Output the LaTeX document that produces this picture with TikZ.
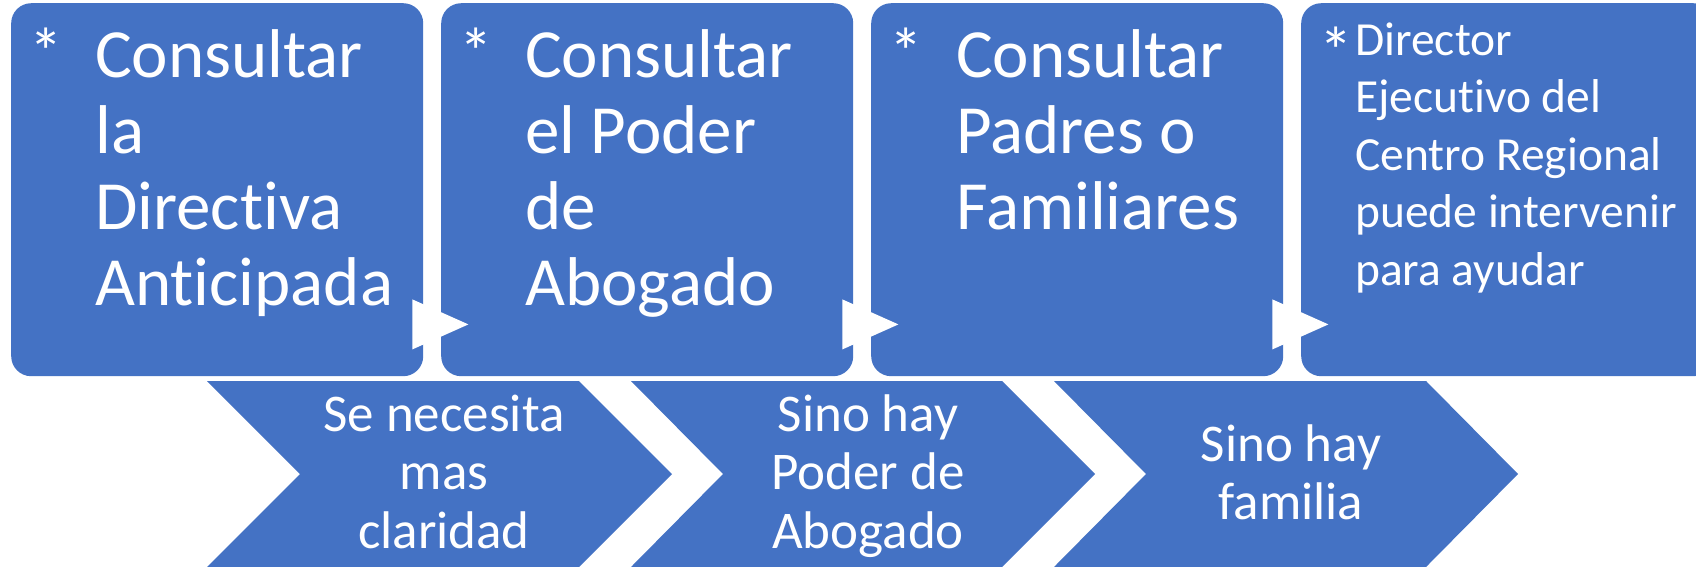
\documentclass[tikz,border=0pt]{standalone}
\usepackage{fontspec}
\setmainfont{Carlito}[Ligatures={NoCommon}]
\usetikzlibrary{calc}
\definecolor{accentblue}{HTML}{4472C4}
\tikzset{
  stepbox/.style={fill=accentblue, draw=none, rounded corners=20pt, minimum width=412pt, minimum height=373pt, anchor=north west, inner sep=0pt},
  tri/.style={fill=white, draw=none},
  chev/.style={fill=accentblue, draw=none},
  star/.style={anchor=north west, inner sep=0pt, text=white, font=\fontsize{67}{76}\selectfont},
  bigtxt/.style={anchor=base west, inner sep=0pt, text=white, font=\fontsize{69}{76}\selectfont},
  midtxt/.style={anchor=base west, inner sep=0pt, text=white, font=\fontsize{47.5}{57.5}\selectfont},
  chevtxt/.style={anchor=base, inner sep=0pt, text=white, font=\fontsize{53}{58.5}\selectfont},
}
\begin{document}
\begin{tikzpicture}[x=1pt, y=-1pt]
\path[use as bounding box] (0,0) rectangle (1696,566);
\clip (0,0) rectangle (1696,566);
\fill[white] (0,0) rectangle (1696,566);

% top boxes
\node[stepbox] (b1) at (11,3) {};
\node[stepbox] (b2) at (441,3) {};
\node[stepbox] (b3) at (871,3) {};
\node[stepbox] (b4) at (1301,3) {};

% triangles between boxes
\foreach \b in {b1,b2,b3}{
  \fill[tri] ($(\b.south east)+(-11,-77)$) -- ($(\b.south east)+(45,-52)$) -- ($(\b.south east)+(-11,-27)$) -- cycle;
}

% bullets
\node[star] (s1) at (29,28) {*};
\node[star] (s2) at (459,28) {*};
\node[star] (s3) at (889,28) {*};
\node[star] (s4) at (1319,27) {*};

% box texts
\node[bigtxt] (t1) at (95,77) {\parbox[t]{330pt}{\raggedright Consultar\\la\\Directiva\\Anticipada}};
\node[bigtxt] (t2) at (525,77) {\parbox[t]{330pt}{\raggedright Consultar\\el Poder\\de\\Abogado}};
\node[bigtxt] (t3) at (956,77) {\parbox[t]{330pt}{\raggedright Consultar\\Padres o\\Familiares}};
\node[midtxt] (t4) at (1355,55) {\parbox[t]{340pt}{\raggedright Director\\Ejecutivo del\\Centro Regional\\puede intervenir\\para ayudar}};

% chevrons
\fill[chev] (207,381) -- (579,381) -- (672,474) -- (579,567) -- (207,567) -- (300,474) -- cycle;
\fill[chev] (631,381) -- (1002,381) -- (1095,474) -- (1002,567) -- (631,567) -- (723,474) -- cycle;
\fill[chev] (1054,381) -- (1426,381) -- (1518,474) -- (1426,567) -- (1054,567) -- (1146,474) -- cycle;

\node[chevtxt] (c1) at (444,431) {\parbox[t]{300pt}{\centering Se necesita\\mas\\claridad}};
\node[chevtxt] (c2) at (868,431) {\parbox[t]{300pt}{\centering Sino hay\\Poder de\\Abogado}};
\node[chevtxt] (c3) at (1291,461) {\parbox[t]{300pt}{\centering Sino hay\\familia}};
\end{tikzpicture}
\end{document}
